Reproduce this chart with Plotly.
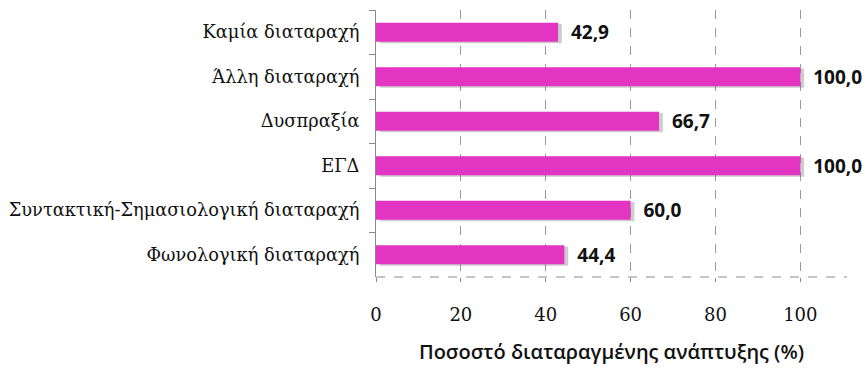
import plotly.graph_objects as go

# Categories listed top to bottom, with their percentages
categories = [
    "Καμία διαταραχή",
    "Άλλη διαταραχή",
    "Δυσπραξία",
    "ΕΓΔ",
    "Συντακτική-Σημασιολογική διαταραχή",
    "Φωνολογική διαταραχή",
]
values = [42.9, 100.0, 66.7, 100.0, 60.0, 44.4]
x_ticks = [0, 20, 40, 60, 80, 100]
x_title = "Ποσοστό διαταραγμένης ανάπτυξης (%)"

BAR = "#E435C2"
BAR_W = 0.43

fig = go.Figure()

# soft grey shadow just behind each bar
fig.add_trace(go.Bar(
    y=categories, x=values, orientation="h",
    base=0.9, width=BAR_W, offset=-BAR_W / 2 + 0.03,
    marker=dict(color="rgba(90,90,90,0.3)", line=dict(width=0)),
    hoverinfo="skip", showlegend=False,
))

fig.add_trace(go.Bar(
    y=categories, x=values, orientation="h",
    width=BAR_W, offset=-BAR_W / 2,
    marker=dict(color=BAR, line=dict(width=0)),
    texttemplate="\u00a0\u00a0%{x:.1f}", textposition="outside",
    constraintext="none",
    textfont=dict(family="Open Sans", size=19, color="#111111", weight="bold"),
    cliponaxis=False, showlegend=False,
))

# dashed bottom axis line
fig.add_shape(type="line", xref="paper", yref="paper", x0=0, x1=1, y0=0, y1=0,
              line=dict(color="#8a8a8a", width=1, dash="dash"), layer="above")

fig.update_layout(
    width=865, height=371,
    margin=dict(l=376, r=18, t=10, b=94),
    paper_bgcolor="white", plot_bgcolor="white",
    barmode="overlay",
    separators=",.",
    xaxis=dict(
        range=[0, 111], tickvals=x_ticks, automargin=False,
        showgrid=True, gridcolor="#9a9a9a", griddash="dash", gridwidth=1,
        zeroline=False, showline=False,
        ticks="outside", ticklen=4, tickcolor="#8a8a8a",
        ticklabelstandoff=17,
        tickfont=dict(family="DejaVu Serif", size=18, color="#111111"),
        title=dict(text=x_title, standoff=21,
                   font=dict(family="Open Sans", size=20, color="#111111", weight=600)),
    ),
    yaxis=dict(
        autorange="reversed", automargin=False,
        showline=True, linecolor="#8a8a8a", linewidth=1,
        ticks="outside", tickson="boundaries", ticklen=6, tickcolor="#8a8a8a",
        showgrid=False, zeroline=False,
        ticklabelstandoff=12,
        tickfont=dict(family="DejaVu Serif", size=17.8, color="#111111"),
    ),
)

fig.write_html("out.html")
